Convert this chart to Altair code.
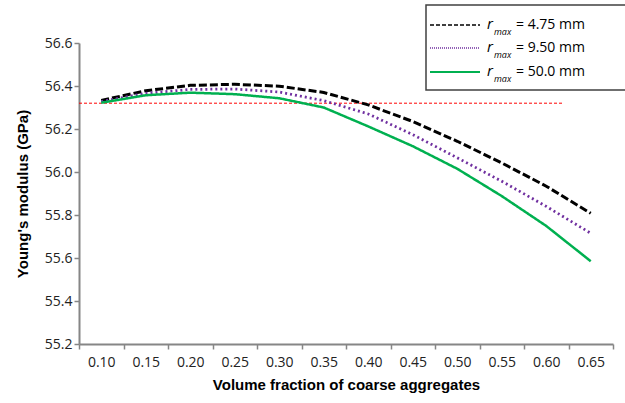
import altair as alt
import pandas as pd

# ---- data ----
x_labels = ["0.10", "0.15", "0.20", "0.25", "0.30", "0.35",
            "0.40", "0.45", "0.50", "0.55", "0.60", "0.65"]
black_475 = [56.333, 56.378, 56.403, 56.408, 56.399, 56.370,
             56.312, 56.235, 56.143, 56.042, 55.934, 55.808]
purple_950 = [56.328, 56.366, 56.384, 56.386, 56.372, 56.332,
              56.270, 56.174, 56.066, 55.957, 55.840, 55.715]
green_500 = [56.322, 56.357, 56.369, 56.362, 56.343, 56.300,
             56.212, 56.120, 56.015, 55.888, 55.749, 55.585]
series_names = ["4.75 mm", "9.50 mm", "50.0 mm"]
legend_values = ["= 4.75 mm", "=  9.50 mm", "=  50.0 mm"]
series_colors = ["#000000", "#7030A0", "#00B050"]
ref_value = 56.32
ref_x_start = 0.075
ref_x_end = 0.618
y_ticks = [55.2, 55.4, 55.6, 55.8, 56.0, 56.2, 56.4, 56.6]

rows = []
for name, vals in zip(series_names, [black_475, purple_950, green_500]):
    for xl, v in zip(x_labels, vals):
        rows.append({"x": xl, "E": v, "series": name})
df = pd.DataFrame(rows)

W, H = 534, 301
FONT = "Open Sans"
TFONT = "Liberation Sans"

base_x = alt.X("x:O", sort=x_labels, bandPosition=0.5,
               scale=alt.Scale(type="band", paddingInner=0, paddingOuter=0, domain=x_labels),
               axis=alt.Axis(title="Volume fraction of coarse aggregates", labelAngle=0,
                             tickBand="extent", tickSize=5, labelPadding=6,
                             titlePadding=8, grid=False))
y_scale = alt.Scale(domain=[55.2, 56.6], nice=False, zero=False)
y_axis = alt.Axis(title="Young's modulus (GPa)", values=y_ticks, format=".1f",
                  tickSize=5, labelPadding=2, titlePadding=14, grid=False)

lines = alt.Chart(df).mark_line(clip=False).encode(
    x=base_x,
    y=alt.Y("E:Q", scale=y_scale, axis=y_axis),
    color=alt.Color("series:N", sort=series_names,
                    scale=alt.Scale(domain=series_names, range=series_colors), legend=None),
    strokeDash=alt.StrokeDash("series:N", sort=series_names,
                              scale=alt.Scale(domain=series_names, range=[[8, 3], [2, 3], [1, 0]]),
                              legend=None),
    strokeWidth=alt.StrokeWidth("series:N", sort=series_names,
                                scale=alt.Scale(domain=series_names, range=[3, 2.5, 3]),
                                legend=None),
    order=alt.Order("xo:Q"),
).transform_calculate(xo="toNumber(datum.x)")

ref_df = pd.DataFrame({"xs": [ref_x_start], "xe": [ref_x_end], "E": [ref_value]})
ref = alt.Chart(ref_df).mark_rule(color="#FF0000", strokeDash=[3, 2], strokeWidth=1).encode(
    x=alt.X("xs:Q", scale=alt.Scale(domain=[0.075, 0.675], nice=False, zero=False), axis=None),
    x2="xe:Q",
    y=alt.Y("E:Q", scale=y_scale, axis=y_axis),
)

# ---- hand-built legend (box with r_max labels) ----
legend_layers = []
box = alt.Chart(pd.DataFrame({"a": [0]})).mark_rect(
    fill="white", stroke="#404040", strokeWidth=1.5).encode(
    x=alt.value(347), x2=alt.value(560), y=alt.value(-38), y2=alt.value(47))
legend_layers.append(box)
row_y = [-18, 5, 29]
dashes = [[4, 2], [1, 1], [1, 0]]
widths = [1.5, 1.5, 2]
for i in range(3):
    yv = row_y[i]
    legend_layers.append(
        alt.Chart(pd.DataFrame({"a": [0]})).mark_rule(
            color=series_colors[i], strokeDash=dashes[i], strokeWidth=widths[i]).encode(
            x=alt.value(351), x2=alt.value(401), y=alt.value(yv)))
    legend_layers.append(
        alt.Chart(pd.DataFrame({"t": ["r"]})).mark_text(
            font=FONT, fontSize=15, fontStyle="italic", align="left", baseline="middle",
            color="#000").encode(x=alt.value(408), y=alt.value(yv - 1), text="t:N"))
    legend_layers.append(
        alt.Chart(pd.DataFrame({"t": ["max"]})).mark_text(
            font=FONT, fontSize=9, fontStyle="italic", align="left", baseline="middle",
            color="#000").encode(x=alt.value(415), y=alt.value(yv + 7), text="t:N"))
    legend_layers.append(
        alt.Chart(pd.DataFrame({"t": [legend_values[i]]})).mark_text(
            font=FONT, fontSize=14, align="left", baseline="middle",
            color="#000").encode(x=alt.value(437), y=alt.value(yv), text="t:N"))

chart = alt.layer(ref, lines, *legend_layers).resolve_scale(x="independent").properties(
    width=W, height=H,
    autosize=alt.AutoSizeParams(type="none"),
    padding={"left": 79, "top": 43, "right": 12, "bottom": 59},
).configure_view(stroke=None).configure_axis(
    domainColor="#868686", domainWidth=2, tickColor="#868686", tickWidth=1.5,
    labelFont=FONT, labelFontSize=14, labelColor="#222222",
    titleFont=TFONT, titleFontSize=15, titleFontWeight="bold", titleColor="#000000",
)

chart.save("out.html", embed_options={"renderer": "svg", "actions": False})
